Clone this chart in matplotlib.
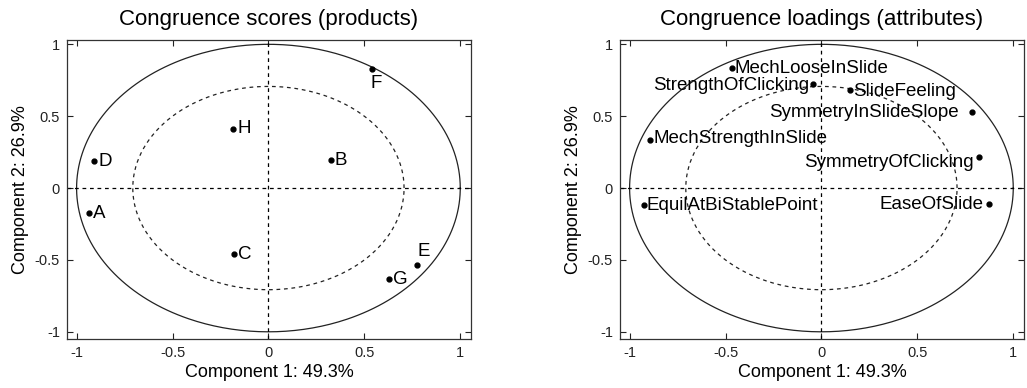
import numpy as np
import matplotlib
matplotlib.use("Agg")
import matplotlib.pyplot as plt

plt.rcParams['font.family'] = ['Liberation Sans', 'DejaVu Sans']

# ---- data ----
product_names = ["A", "B", "C", "D", "E", "F", "G", "H"]
product_x = [-0.937, 0.325, -0.182, -0.910, 0.776, 0.540, 0.628, -0.184]
product_y = [-0.176, 0.195, -0.462, 0.188, -0.536, 0.826, -0.633, 0.413]

attr_names = ["MechLooseInSlide", "StrengthOfClicking", "SlideFeeling",
              "SymmetryInSlideSlope", "MechStrengthInSlide", "SymmetryOfClicking",
              "EquilAtBiStablePoint", "EaseOfSlide"]
attr_x = [-0.467, -0.043, 0.149, 0.786, -0.892, 0.821, -0.924, 0.873]
attr_y = [0.833, 0.722, 0.682, 0.527, 0.334, 0.218, -0.121, -0.114]

titles = ["Congruence scores (products)", "Congruence loadings (attributes)"]
xlabel = "Component 1: 49.3%"
ylabel = "Component 2: 26.9%"
ticks = [-1, -0.5, 0, 0.5, 1]
tick_labels = ["-1", "-0.5", "0", "0.5", "1"]
inner_radius = np.sqrt(0.5)

# label placement (offset in points, alignment)
product_label_style = {
    "A": (3, 0, "left", "center"), "B": (3, 0, "left", "center"),
    "C": (3, 0, "left", "center"), "D": (3, 0, "left", "center"),
    "E": (0, 4, "left", "bottom"), "F": (-1, -4, "left", "top"),
    "G": (3, 0, "left", "center"), "H": (3, 0, "left", "center"),
}
attr_label_style = {
    "MechLooseInSlide": (2, 0, "left", "center"),
    "StrengthOfClicking": (-3, -1, "right", "center"),
    "SlideFeeling": (2, -1, "left", "center"),
    "SymmetryInSlideSlope": (-10, 0, "right", "center"),
    "MechStrengthInSlide": (2, 1, "left", "center"),
    "SymmetryOfClicking": (-4, -4, "right", "center"),
    "EquilAtBiStablePoint": (2, 0, "left", "center"),
    "EaseOfSlide": (-4, 0, "right", "center"),
}

fig = plt.figure(figsize=(10.27, 3.88), dpi=100)
axes = [fig.add_axes([67/1027, 49/388, 404/1027, 299/388]),
        fig.add_axes([620/1027, 49/388, 404/1027, 299/388])]

theta = np.linspace(0, 2*np.pi, 400)

def setup(ax, title):
    ax.plot(np.cos(theta), np.sin(theta), color="#222222", lw=0.9)
    ax.plot(inner_radius*np.cos(theta), inner_radius*np.sin(theta),
            color="#222222", lw=0.9, ls=(0, (3, 3)))
    ax.axhline(0, color="black", lw=0.9, ls=(0, (3, 3)))
    ax.axvline(0, color="black", lw=0.9, ls=(0, (3, 3)))
    ax.set_xlim(-1.05, 1.056)
    ax.set_ylim(-1.05, 1.03)
    ax.set_xticks(ticks)
    ax.set_xticklabels(tick_labels)
    ax.set_yticks(ticks)
    ax.set_yticklabels(tick_labels)
    ax.tick_params(direction="in", length=4, width=0.8, top=True, right=True,
                   labelsize=10.5, pad=5, colors="#222222")
    for s in ax.spines.values():
        s.set_linewidth(0.9)
        s.set_color("#333333")
    ax.set_title(title, fontsize=16, pad=11)
    ax.set_xlabel(xlabel, fontsize=13, labelpad=3)
    ax.set_ylabel(ylabel, fontsize=13, labelpad=4)

ax1, ax2 = axes
setup(ax1, titles[0])
ax1.plot(product_x, product_y, "o", color="black", ms=3.5, ls="none")
for n, x, y in zip(product_names, product_x, product_y):
    dx, dy, ha, va = product_label_style[n]
    ax1.annotate(n, (x, y), xytext=(dx, dy), textcoords="offset points",
                 ha=ha, va=va, fontsize=13.5)

setup(ax2, titles[1])
ax2.plot(attr_x, attr_y, "o", color="black", ms=3.5, ls="none")
for n, x, y in zip(attr_names, attr_x, attr_y):
    dx, dy, ha, va = attr_label_style[n]
    ax2.annotate(n, (x, y), xytext=(dx, dy), textcoords="offset points",
                 ha=ha, va=va, fontsize=13.5)

fig.savefig("out.png", dpi=100)
